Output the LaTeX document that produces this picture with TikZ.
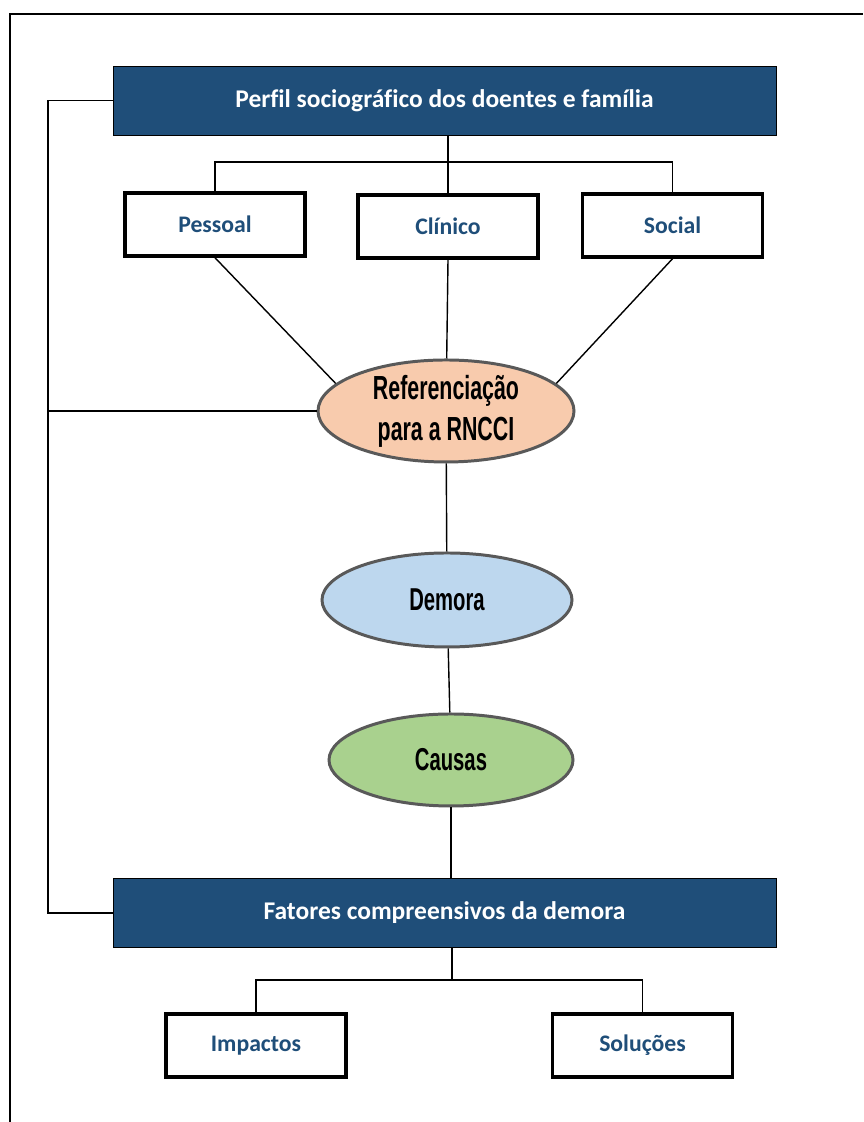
\documentclass[tikz,border=0pt]{standalone}
\usepackage{fontspec}
\usetikzlibrary{shapes.geometric,shadows}
\setmainfont{Carlito}[Ligatures={NoCommon}]
\newfontfamily\narrowfont[FakeStretch=0.64]{Liberation Sans}
\definecolor{navy}{HTML}{1F4E79}
\definecolor{peach}{HTML}{F8CBAD}
\definecolor{skyblue}{HTML}{BDD7EE}
\definecolor{leaf}{HTML}{A9D18E}
\definecolor{rim}{HTML}{595959}

\begin{document}
\begin{tikzpicture}[
  every node/.style={inner sep=0pt},
  link/.style={draw=black,line width=.8pt},
  header/.style={fill=navy,draw=black,line width=.5pt,text=white,
    minimum width=13.26cm,minimum height=1.38cm,
    font=\bfseries\fontsize{14.5}{17}\selectfont},
  item/.style={fill=white,draw=black,line width=2pt,text=navy,
    minimum width=3.60cm,minimum height=1.26cm,
    drop shadow={shadow xshift=.6pt,shadow yshift=-1.2pt,fill=black!30},
    font=\bfseries\fontsize{13.5}{16}\selectfont},
  oval/.style={ellipse,draw=rim,line width=1.7pt,align=center,
    font=\narrowfont\bfseries\fontsize{18}{21}\selectfont}]
\useasboundingbox (0,0) rectangle (17.26,22.44);
% outer frame, cut by the page on the right and at the bottom
\draw[line width=1.1pt] (0.20,0) -- (0.20,22.16) -- (17.26,22.16);
% top block
\node[header] (perfil) at (8.89,20.43) {Perfil sociográfico dos doentes e família};
\node[item] (pessoal) at (4.30,17.95) {Pessoal};
\node[item] (clinico) at (8.96,17.91) {Clínico};
\node[item] (social) at (13.45,17.93) {Social};
% the three ellipses down the middle
\node[oval,fill=peach,minimum width=5.12cm,minimum height=2.04cm,
  font=\narrowfont\bfseries\fontsize{19}{23.3}\selectfont] (refer) at (8.92,14.22)
  {Referenciação\\para a RNCCI};
\node[oval,fill=skyblue,minimum width=5.00cm,minimum height=1.88cm] (demora) at (8.94,10.44) {Demora};
\node[oval,fill=leaf,minimum width=4.88cm,minimum height=1.84cm] (causas) at (9.02,7.24) {Causas};
% bottom block
\node[header] (fatores) at (8.89,4.18) {Fatores compreensivos da demora};
\node[item] (impactos) at (5.12,1.53) {Impactos};
\node[item] (solucoes) at (12.85,1.53) {Soluções};
% tree under the first header
\coordinate (fork) at (8.96,19.20);
\draw[link] (perfil.south -| fork) -- (clinico.north);
\draw[link] (pessoal.north) |- (fork) -| (social.north);
% into the first ellipse
\draw[link] (pessoal.south) -- (refer.166);
\draw[link] (clinico.south) -- (refer);
\draw[link] (social.south) -- (refer.14);
% down the middle
\draw[link] (refer) -- (demora);
\draw[link] (demora) -- (causas);
\draw[link] (causas.south) -- (causas.south |- fatores.north);
% rail on the left
\coordinate (rail) at (0.96,14.22);
\draw[link] (perfil.west) -- (perfil.west -| rail) |- (fatores.west);
\draw[link] (rail) -- (refer.west);
% tree under the second header
\coordinate (fork2) at (9.04,2.84);
\draw[link] (fatores.south -| fork2) -- (fork2);
\draw[link] (impactos.north) |- (fork2) -| (solucoes.north);
\end{tikzpicture}
\end{document}
